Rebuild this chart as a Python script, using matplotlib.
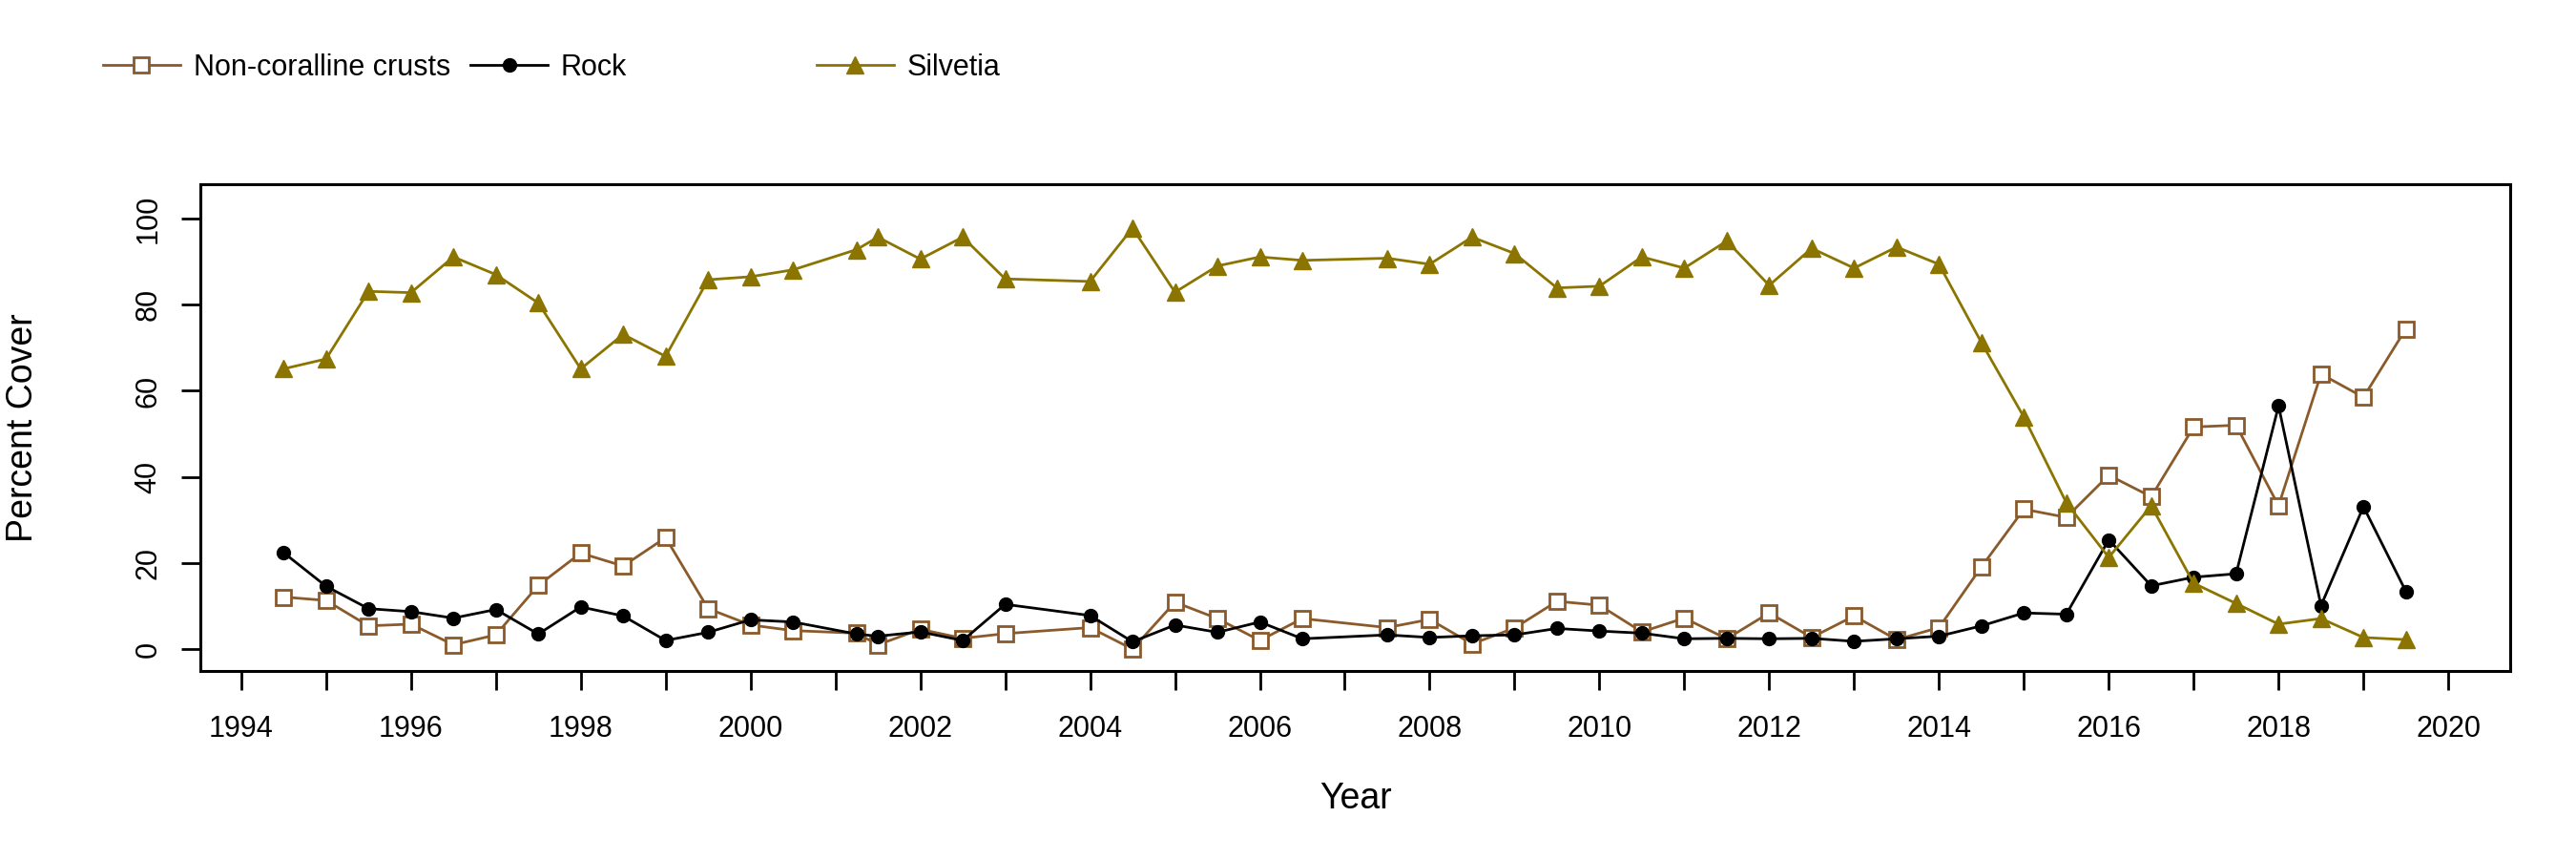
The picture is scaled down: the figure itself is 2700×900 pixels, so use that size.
import matplotlib.pyplot as plt

years = [1994.5, 1995, 1995.5, 1996, 1996.5, 1997, 1997.5, 1998, 1998.5, 1999, 1999.5,
         2000, 2000.5, 2001.25, 2001.5, 2002, 2002.5, 2003, 2004, 2004.5, 2005, 2005.5,
         2006, 2006.5, 2007.5, 2008, 2008.5, 2009, 2009.5, 2010, 2010.5, 2011, 2011.5,
         2012, 2012.5, 2013, 2013.5, 2014, 2014.5, 2015, 2015.5, 2016, 2016.5,
         2017, 2017.5, 2018, 2018.5, 2019, 2019.5]

ncc = [12.1, 11.3, 5.4, 5.8, 1.0, 3.3, 14.8, 22.3, 19.3, 25.9, 9.4,
       5.6, 4.3, 3.7, 1.0, 4.6, 2.5, 3.6, 5.0, 0.0, 10.9, 7.1,
       2.0, 7.1, 5.0, 6.9, 1.2, 4.9, 11.1, 10.2, 4.0, 7.2, 2.4,
       8.4, 2.7, 7.7, 2.2, 5.0, 19.1, 32.5, 30.6, 40.4, 35.4,
       51.6, 52.0, 33.3, 63.9, 58.5, 74.4]

rock = [22.4, 14.6, 9.4, 8.7, 7.2, 9.2, 3.5, 9.8, 7.7, 2.0, 3.9,
        6.8, 6.3, 3.5, 3.0, 4.0, 2.0, 10.4, 7.8, 1.7, 5.6, 3.9,
        6.3, 2.4, 3.3, 2.7, 3.1, 3.3, 4.8, 4.2, 3.7, 2.4, 2.5,
        2.4, 2.5, 1.8, 2.4, 3.0, 5.4, 8.4, 8.1, 25.4, 14.7,
        16.7, 17.5, 56.5, 10.1, 33.1, 13.4]

silvetia = [65.1, 67.4, 83.1, 82.8, 91.1, 87.0, 80.4, 65.1, 73.1, 68.0, 85.8,
            86.5, 88.1, 92.8, 95.7, 90.6, 95.7, 86.0, 85.4, 97.8, 82.9, 89.0,
            91.1, 90.3, 90.8, 89.4, 95.7, 91.9, 83.9, 84.3, 91.1, 88.5, 94.8,
            84.5, 93.1, 88.5, 93.4, 89.4, 71.2, 53.9, 34.0, 21.3, 33.3,
            15.3, 10.6, 5.8, 7.1, 2.7, 2.2]

tick_years = list(range(1994, 2021))
y_ticks = [0, 20, 40, 60, 80, 100]

plt.rcParams['font.family'] = ['Liberation Sans', 'DejaVu Sans']

fig = plt.figure(figsize=(27, 9), dpi=100)
ax = fig.add_axes([0.0778, 0.2193, 0.8967, 0.5663])

# same order as the original: crusts, rock, then silvetia on top
l1, = ax.plot(years, ncc, color='#8B5A2B', marker='s', mfc='white', ms=12, mew=2, lw=2)
l2, = ax.plot(years, rock, color='black', marker='o', ms=10, lw=2)
l3, = ax.plot(years, silvetia, color='#8B7500', marker='^', ms=13, lw=2)

ax.set_xlim(1993.52, 2020.73)
ax.set_ylim(-5, 108)

ax.set_xticks(tick_years)
ax.set_xticklabels([str(y) if y % 2 == 0 else '' for y in tick_years])
ax.set_yticks(y_ticks)
ax.set_yticklabels([str(v) for v in y_ticks])
for lab in ax.get_yticklabels():
    lab.set_rotation(90)
    lab.set_va('center')

ax.tick_params(axis='both', labelsize=22, length=14.4, width=2, direction='out')
ax.tick_params(axis='x', pad=19)
ax.tick_params(axis='y', pad=14)

for s in ax.spines.values():
    s.set_linewidth(2.2)

ax.set_xlabel('Year', fontsize=27)
ax.set_ylabel('Percent Cover', fontsize=27)
ax.xaxis.set_label_coords(0.5, -0.2637)
ax.xaxis.label.set_va('center')
ax.yaxis.set_label_coords(-0.0768, 0.5)
ax.yaxis.label.set_va('center')

# legend entries sit above the plot at fixed spots, like R's horizontal legend
leg_x = [0.04, 0.1826, 0.317]
for h, name, x in zip([l1, l2, l3], ['Non-coralline crusts', 'Rock', 'Silvetia'], leg_x):
    fig.legend([h], [name], loc='center left', bbox_to_anchor=(x, 0.921),
               frameon=False, fontsize=22, handlelength=2.65, handletextpad=0.45,
               borderpad=0, borderaxespad=0)

fig.savefig('out.png', dpi=100)
